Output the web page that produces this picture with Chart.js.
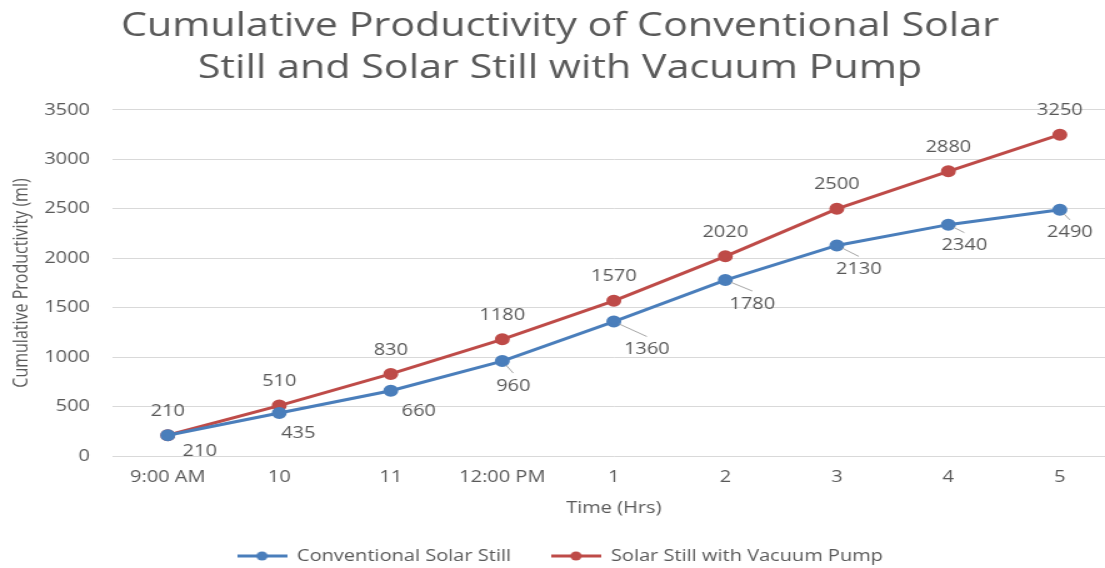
<!DOCTYPE html>
<html>
<head>
<meta charset="utf-8">
<script src="https://cdn.jsdelivr.net/npm/chart.js@4/dist/chart.umd.min.js"></script>
<style>
  html, body { margin: 0; padding: 0; background: #ffffff; overflow: hidden; width: 1105px; height: 568px; }
  #wrap { position: absolute; left: 0; top: 0; width: 900px; height: 574px; transform: scaleX(1.25); transform-origin: 0 0; }
</style>
</head>
<body>
<div id="wrap"><canvas id="c" width="900" height="574"></canvas></div>
<script>
// ---- data ----
const categories = ['9:00 AM', '10', '11', '12:00 PM', '1', '2', '3', '4', '5'];
const conventional = [210, 435, 660, 960, 1360, 1780, 2130, 2340, 2490];
const vacuum = [210, 510, 830, 1180, 1570, 2020, 2500, 2880, 3250];
const seriesNames = ['Conventional Solar Still', 'Solar Still with Vacuum Pump'];
const titleLines = ['Cumulative Productivity of Conventional Solar', 'Still and Solar Still with Vacuum Pump'];
const xTitle = 'Time (Hrs)';
const yTitle = 'Cumulative Productivity (ml)';

// ---- style ----
const BLUE = '#4A7EBB';
const RED = '#BE4B48';
const TEXT = '#595959';
const GRID = '#D9D9D9';
const FONT = "'Open Sans', sans-serif";
// label placement (relative to the point) for the blue series
const blueLabelOffset = [[25.6,16],[15.2,20],[22.4,21],[8.8,25],[26.4,28],[21.6,24],[17.6,24],[12.8,21],[8,23]];
const blueLeader = [false,false,false,true,true,true,true,true,true];

function legendIcon(color) {
  const cv = document.createElement('canvas');
  cv.width = 40; cv.height = 12;
  const g = cv.getContext('2d');
  g.strokeStyle = color; g.lineWidth = 3;
  g.beginPath(); g.moveTo(0, 6); g.lineTo(40, 6); g.stroke();
  g.fillStyle = color;
  g.beginPath(); g.arc(20, 6, 4.5, 0, Math.PI * 2); g.fill();
  return cv;
}
const icons = [legendIcon(BLUE), legendIcon(RED)];

const labelPlugin = {
  id: 'valueLabels',
  afterDatasetsDraw(chart) {
    const ctx = chart.ctx;
    ctx.save();
    ctx.font = "16px " + FONT;
    ctx.fillStyle = TEXT;
    ctx.textAlign = 'center';
    ctx.textBaseline = 'middle';
    // blue series
    const m0 = chart.getDatasetMeta(0);
    m0.data.forEach((pt, i) => {
      const [dx, dy] = blueLabelOffset[i];
      const lx = pt.x + dx, ly = pt.y + dy;
      if (blueLeader[i]) {
        const ex = lx, ey = ly - 13;
        const vx = ex - pt.x, vy = ey - pt.y;
        const len = Math.hypot(vx, vy);
        ctx.strokeStyle = '#A6A6A6';
        ctx.lineWidth = 1;
        ctx.beginPath();
        ctx.moveTo(pt.x + vx / len * 5, pt.y + vy / len * 5);
        ctx.lineTo(ex, ey);
        ctx.stroke();
      }
      ctx.fillText(String(conventional[i]), lx, ly);
    });
    // red series
    const m1 = chart.getDatasetMeta(1);
    m1.data.forEach((pt, i) => {
      ctx.fillText(String(vacuum[i]), pt.x, pt.y - 24);
    });
    ctx.restore();
  }
};

new Chart(document.getElementById('c'), {
  type: 'line',
  data: {
    labels: categories,
    datasets: [
      { label: seriesNames[0], data: conventional, borderColor: BLUE, backgroundColor: BLUE,
        borderWidth: 3, pointRadius: 4.5, pointBackgroundColor: BLUE, pointBorderColor: BLUE, tension: 0 },
      { label: seriesNames[1], data: vacuum, borderColor: RED, backgroundColor: RED,
        borderWidth: 3, pointRadius: 4.5, pointBackgroundColor: RED, pointBorderColor: RED, tension: 0 }
    ]
  },
  options: {
    responsive: false,
    animation: false,
    devicePixelRatio: 1,
    layout: { padding: { left: 0, right: 4, top: 0, bottom: 0 } },
    plugins: {
      tooltip: { enabled: false },
      title: {
        display: true, text: titleLines, color: TEXT,
        font: { family: FONT, size: 33, weight: 'normal', lineHeight: 1.28 },
        padding: { top: 5, bottom: 20.5 }
      },
      legend: {
        position: 'bottom',
        labels: {
          color: TEXT, font: { family: FONT, size: 16 },
          usePointStyle: true, pointStyleWidth: 40, padding: 32,
          generateLabels(chart) {
            const items = Chart.defaults.plugins.legend.labels.generateLabels(chart);
            items.forEach((it, i) => { it.pointStyle = icons[i]; });
            return items;
          }
        }
      }
    },
    scales: {
      x: {
        offset: true,
        grid: { display: false, drawTicks: false },
        border: { display: false },
        ticks: { color: TEXT, font: { family: FONT, size: 16 }, padding: 12, maxRotation: 0, autoSkip: false },
        title: { display: true, text: xTitle, color: TEXT, font: { family: FONT, size: 16, lineHeight: 1 }, padding: { top: 0, bottom: 0 } },
        afterFit(scale) { scale.height = 60; }
      },
      y: {
        min: 0, max: 3500,
        grid: { color: GRID, lineWidth: 1, drawTicks: false },
        border: { display: false },
        ticks: { stepSize: 500, color: TEXT, font: { family: FONT, size: 16 }, padding: 17.6,
                 callback: (v) => String(v) },
        title: { display: true, text: yTitle, color: TEXT, font: { family: FONT, size: 16, lineHeight: 1.2 }, padding: { top: 8, bottom: 0 } },
        afterFit(scale) { scale.width = 89.6; }
      }
    }
  },
  plugins: [labelPlugin]
});
</script>
</body>
</html>
